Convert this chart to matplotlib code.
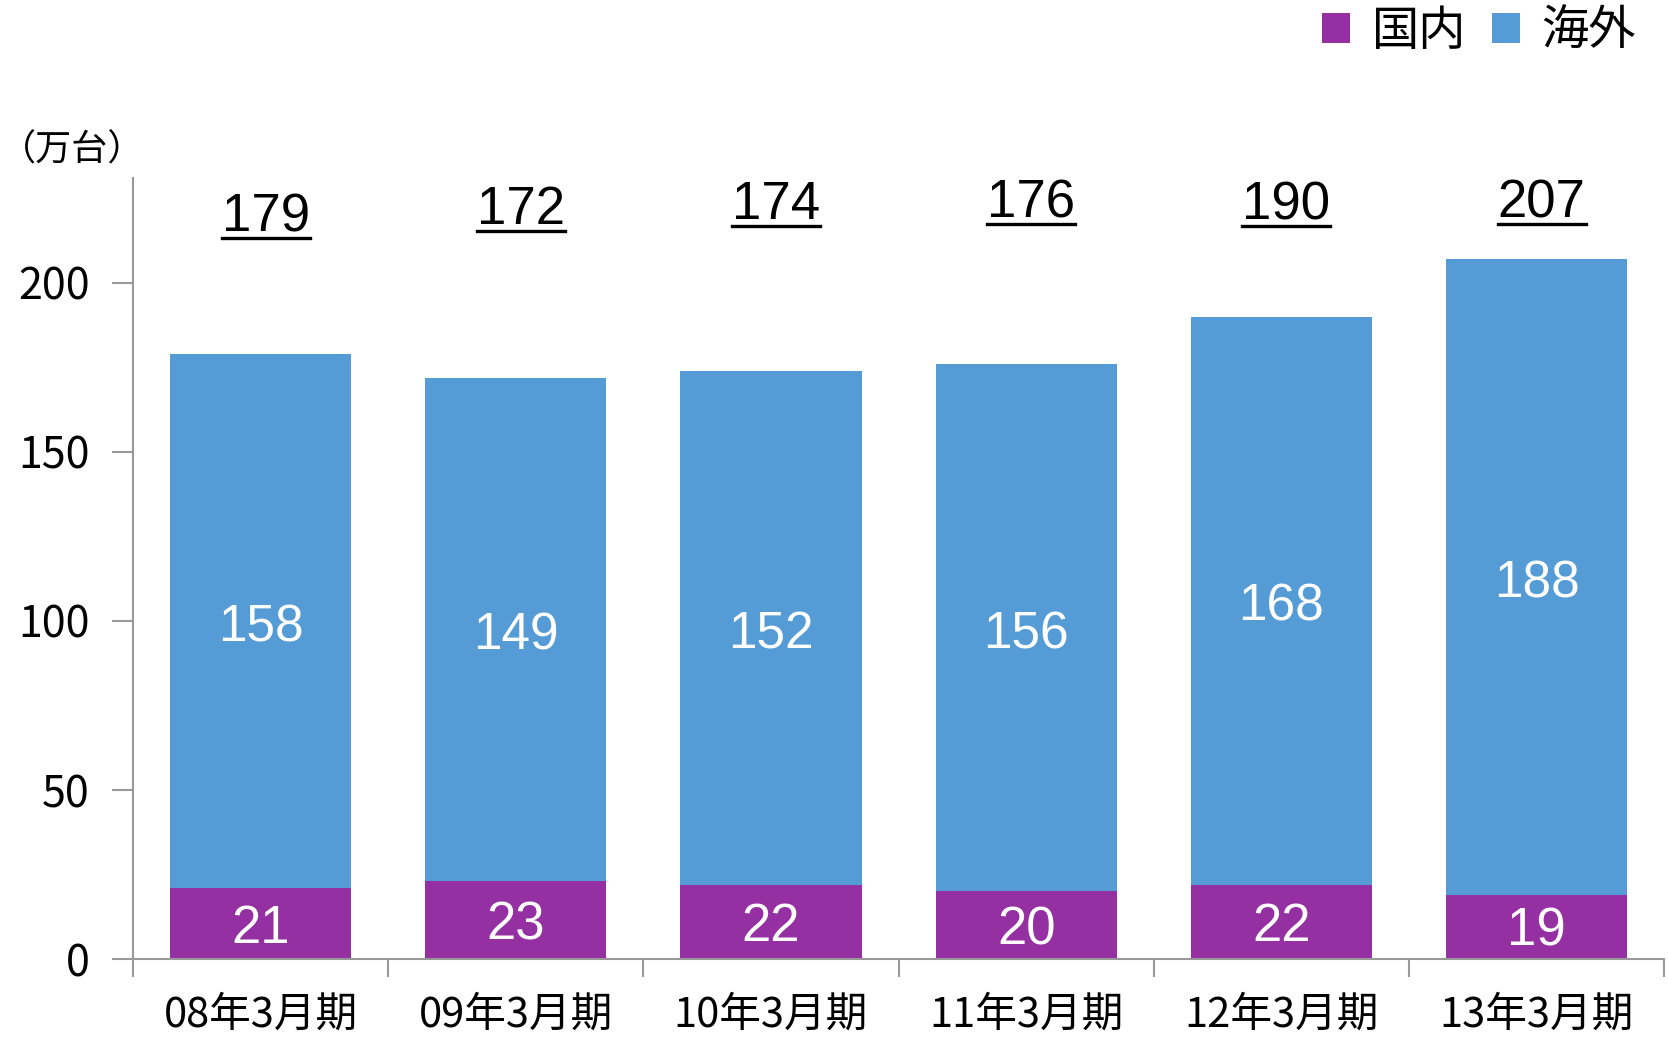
import numpy as np
import matplotlib.pyplot as plt
from matplotlib.lines import Line2D

plt.rcParams['font.family'] = ['Noto Sans CJK JP', 'DejaVu Sans']

# データ
periods = ['08年3月期', '09年3月期', '10年3月期', '11年3月期', '12年3月期', '13年3月期']
domestic = [21, 23, 22, 20, 22, 19]
overseas = [158, 149, 152, 156, 168, 188]
totals = [179, 172, 174, 176, 190, 207]
total_label_y = [219.5, 221.5, 223, 223.6, 223, 223.6]

c_dom = '#9530A2'
c_ovs = '#559BD6'

fig = plt.figure(figsize=(16.68, 10.37), dpi=100)
ax = fig.add_axes([0.0797, 0.0752, 0.918, 0.753])

x = np.arange(len(periods))
w = 0.71
ax.bar(x, domestic, w, color=c_dom, label='国内', zorder=2)
ax.bar(x, overseas, w, bottom=domestic, color=c_ovs, label='海外', zorder=2)

total_texts = []
for i in range(len(x)):
    ax.text(x[i], domestic[i] / 2 - 1.5, str(domestic[i]), ha='center', va='center',
            color='white', fontsize=38, family='Liberation Sans')
    ax.text(x[i], domestic[i] + overseas[i] / 2 - 2, str(overseas[i]), ha='center', va='center',
            color='white', fontsize=37, family='Liberation Sans')
    t = ax.text(x[i] + 0.02, total_label_y[i], str(totals[i]), ha='center',
                va='center', color='black', fontsize=38, family='Liberation Sans')
    total_texts.append(t)

ax.set_xlim(-0.5, 5.5)
ax.set_ylim(0, 231)
ax.set_yticks([0, 50, 100, 150, 200])
ax.set_xticks(x)
ax.set_xticklabels(periods, fontsize=30)
ax.set_xticks(np.arange(-0.5, 6, 1), minor=True)
ax.tick_params(axis='x', which='major', length=0, pad=26)
ax.tick_params(axis='x', which='minor', length=13, width=1.5, color='#999999', direction='out')
ax.tick_params(axis='y', length=15, width=1.5, color='#999999', labelsize=31, pad=16)

for s in ['top', 'right']:
    ax.spines[s].set_visible(False)
for s in ['left', 'bottom']:
    ax.spines[s].set_color('#999999')
    ax.spines[s].set_linewidth(1.5)

fig.text(0.0, 0.855, '（万台）', fontsize=26, ha='left', va='center')

ax.legend(loc='upper right', bbox_to_anchor=(0.994, 1.243), ncol=2, frameon=False,
          fontsize=34, handlelength=0.6, handleheight=0.6, handletextpad=0.45,
          columnspacing=0.55, borderaxespad=0)

# 合計値の下線
fig.canvas.draw()
renderer = fig.canvas.get_renderer()
inv = fig.transFigure.inverted()
for t in total_texts:
    bb = t.get_window_extent(renderer)
    (x0, y0), (x1, y1) = inv.transform([(bb.x0, bb.y0), (bb.x1, bb.y1)])
    yl = y0 + 0.004
    fig.add_artist(Line2D([x0, x1], [yl, yl], color='black', lw=2.4, transform=fig.transFigure))

plt.savefig('out.png', dpi=100)
